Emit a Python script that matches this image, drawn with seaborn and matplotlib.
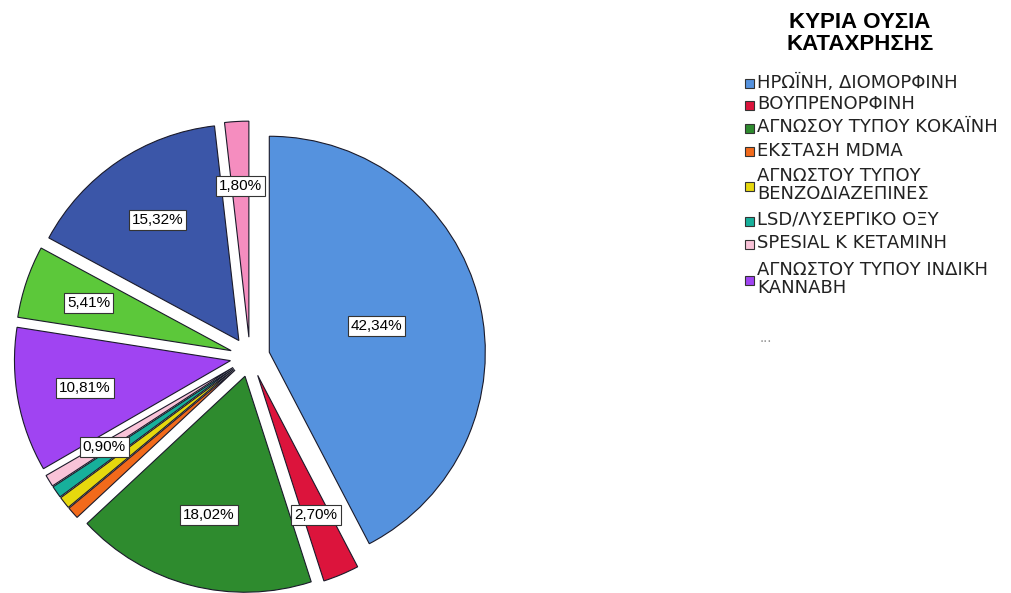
import matplotlib
matplotlib.use("Agg")
import numpy as np
import matplotlib.pyplot as plt
import seaborn as sns
from matplotlib.patches import Rectangle

# slice values (percent of cases), clockwise from 12 o'clock
percentages = [42.34, 2.70, 18.02, 0.90, 0.90, 0.90, 0.90, 10.81, 5.41, 15.32, 1.80]
colors = ['#5592de', '#dc143c', '#2e8b2e', '#f26a1b', '#e6d80e', '#17b09b',
          '#f9c3d8', '#a044f2', '#5cc83a', '#3b56a8', '#f58dbf']
# SPSS hides the labels that would overlap
show_pct = [True, True, True, False, False, False, True, True, True, True, True]

legend_title = ['ΚΥΡΙΑ ΟΥΣΙΑ', 'ΚΑΤΑΧΡΗΣΗΣ']
legend_labels = [
    ['ΗΡΩΪΝΗ, ΔΙΟΜΟΡΦΙΝΗ'],
    ['ΒΟΥΠΡΕΝΟΡΦΙΝΗ'],
    ['ΑΓΝΩΣΟΥ ΤΥΠΟΥ ΚΟΚΑΪΝΗ'],
    ['ΕΚΣΤΑΣΗ MDMA'],
    ['ΑΓΝΩΣΤΟΥ ΤΥΠΟΥ', 'ΒΕΝΖΟΔΙΑΖΕΠΙΝΕΣ'],
    ['LSD/ΛΥΣΕΡΓΙΚΟ ΟΞΥ'],
    ['SPESIAL K ΚΕΤΑΜΙΝΗ'],
    ['ΑΓΝΩΣΤΟΥ ΤΥΠΟΥ ΙΝΔΙΚΗ', 'ΚΑΝΝΑΒΗ'],
]

sns.set_style("white")
plt.rcParams['font.family'] = ['Liberation Sans', 'DejaVu Sans']

W, H = 1011, 593
fig = plt.figure(figsize=(W / 100, H / 100), dpi=100)

# pie axes: centre (250, 357) px, radius 216 px
cx, cy, R = 250, 357, 216
lim = 1.3
box = 2 * lim * R
ax = fig.add_axes([(cx - box / 2) / W, (H - cy - box / 2) / H, box / W, box / H])

wedges, _ = ax.pie(percentages, colors=colors, startangle=90, counterclock=False,
                   explode=[0.092] * len(percentages),
                   wedgeprops=dict(edgecolor='#1a1a2a', linewidth=0.8))
ax.set_xlim(-lim, lim)
ax.set_ylim(-lim, lim)
ax.set_aspect('equal')
ax.axis('off')

for w, p, show in zip(wedges, percentages, show_pct):
    if not show:
        continue
    half = np.deg2rad(w.theta2 - w.theta1) / 2
    ang = np.deg2rad((w.theta1 + w.theta2) / 2)
    dist = 0.70 * np.sin(half) / half
    x = w.center[0] + dist * np.cos(ang)
    y = w.center[1] + dist * np.sin(ang)
    ax.text(x, y, f'{p:.2f}'.replace('.', ',') + '%', ha='center', va='center',
            fontsize=11, color='black',
            bbox=dict(boxstyle='square,pad=0.2', fc='white', ec='#333333', lw=0.8))


# legend drawn by hand (SPSS style), positions in pixels from top-left
def fx(px):
    return px / W


def fy(py):
    return 1 - py / H


for ty, line in zip([22, 45], legend_title):
    fig.text(fx(860), fy(ty), line, ha='center', va='center', fontsize=16,
             fontweight='bold', color='black')

entry_y = [83, 104, 127, 151, 176, 220, 243, 270]
line_h = 18
for lines, col, y0 in zip(legend_labels, colors, entry_y):
    for k, line in enumerate(lines):
        fig.text(fx(757), fy(y0 + k * line_h), line, ha='left', va='center',
                 fontsize=13, color='#222222', family=['DejaVu Sans'])
    mid = y0 + (len(lines) - 1) * line_h / 2 + 1
    fig.add_artist(Rectangle((fx(745), fy(mid + 4.5)), 9 / W, 9 / H,
                             transform=fig.transFigure, fc=col, ec='#333333', lw=0.8))

fig.text(fx(760), fy(338), '...', ha='left', va='center', fontsize=11, color='#999999')

fig.savefig('out.png', dpi=100)
